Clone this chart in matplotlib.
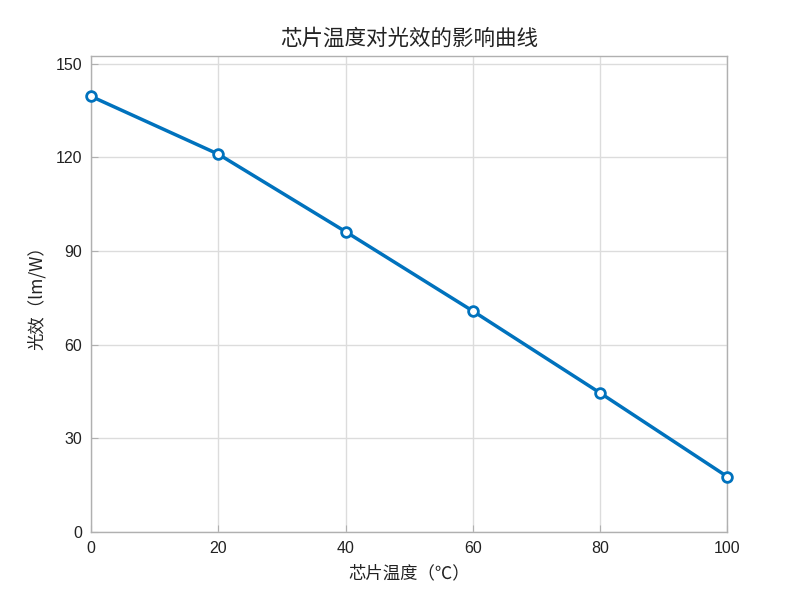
import matplotlib
matplotlib.use("Agg")
import matplotlib.pyplot as plt

plt.rcParams['font.family'] = ['Liberation Sans', 'Noto Sans CJK SC', 'DejaVu Sans']

temps = [0, 20, 40, 60, 80, 100]
efficacy = [139.5, 121.0, 96.2, 70.8, 44.6, 17.8]
xticks = [0, 20, 40, 60, 80, 100]
yticks = [0, 30, 60, 90, 120, 150]

fig = plt.figure(figsize=(8, 6), dpi=100)
ax = fig.add_axes([0.114, 0.113, 0.795, 0.794])

ax.plot(temps, efficacy, color='#0072BD', linewidth=2.5, marker='o',
        markersize=7, markerfacecolor='white', markeredgecolor='#0072BD',
        markeredgewidth=2, zorder=3, clip_on=False)

ax.set_xlim(0, 100)
ax.set_ylim(0, 152.5)
ax.set_xticks(xticks)
ax.set_yticks(yticks)
ax.grid(True, color='#dcdcdc', linewidth=1)
ax.set_axisbelow(True)
for s in ax.spines.values():
    s.set_color('#b0b0b0')
    s.set_linewidth(1)
ax.tick_params(direction='in', colors='#b0b0b0', labelcolor='#222222',
               labelsize=11.5, length=5, pad=6.5)

cjk = ['Noto Sans CJK SC', 'DejaVu Sans']
ax.set_title('芯片温度对光效的影响曲线', fontsize=15.5, family=cjk, pad=8, color='#222222')
ax.set_xlabel('芯片温度（℃）', fontsize=12.5, family=cjk, color='#222222', labelpad=6)
ax.set_ylabel('光效（lm/W）', fontsize=12.5, family=cjk, color='#222222', labelpad=7)

fig.savefig('out.png', dpi=100)
